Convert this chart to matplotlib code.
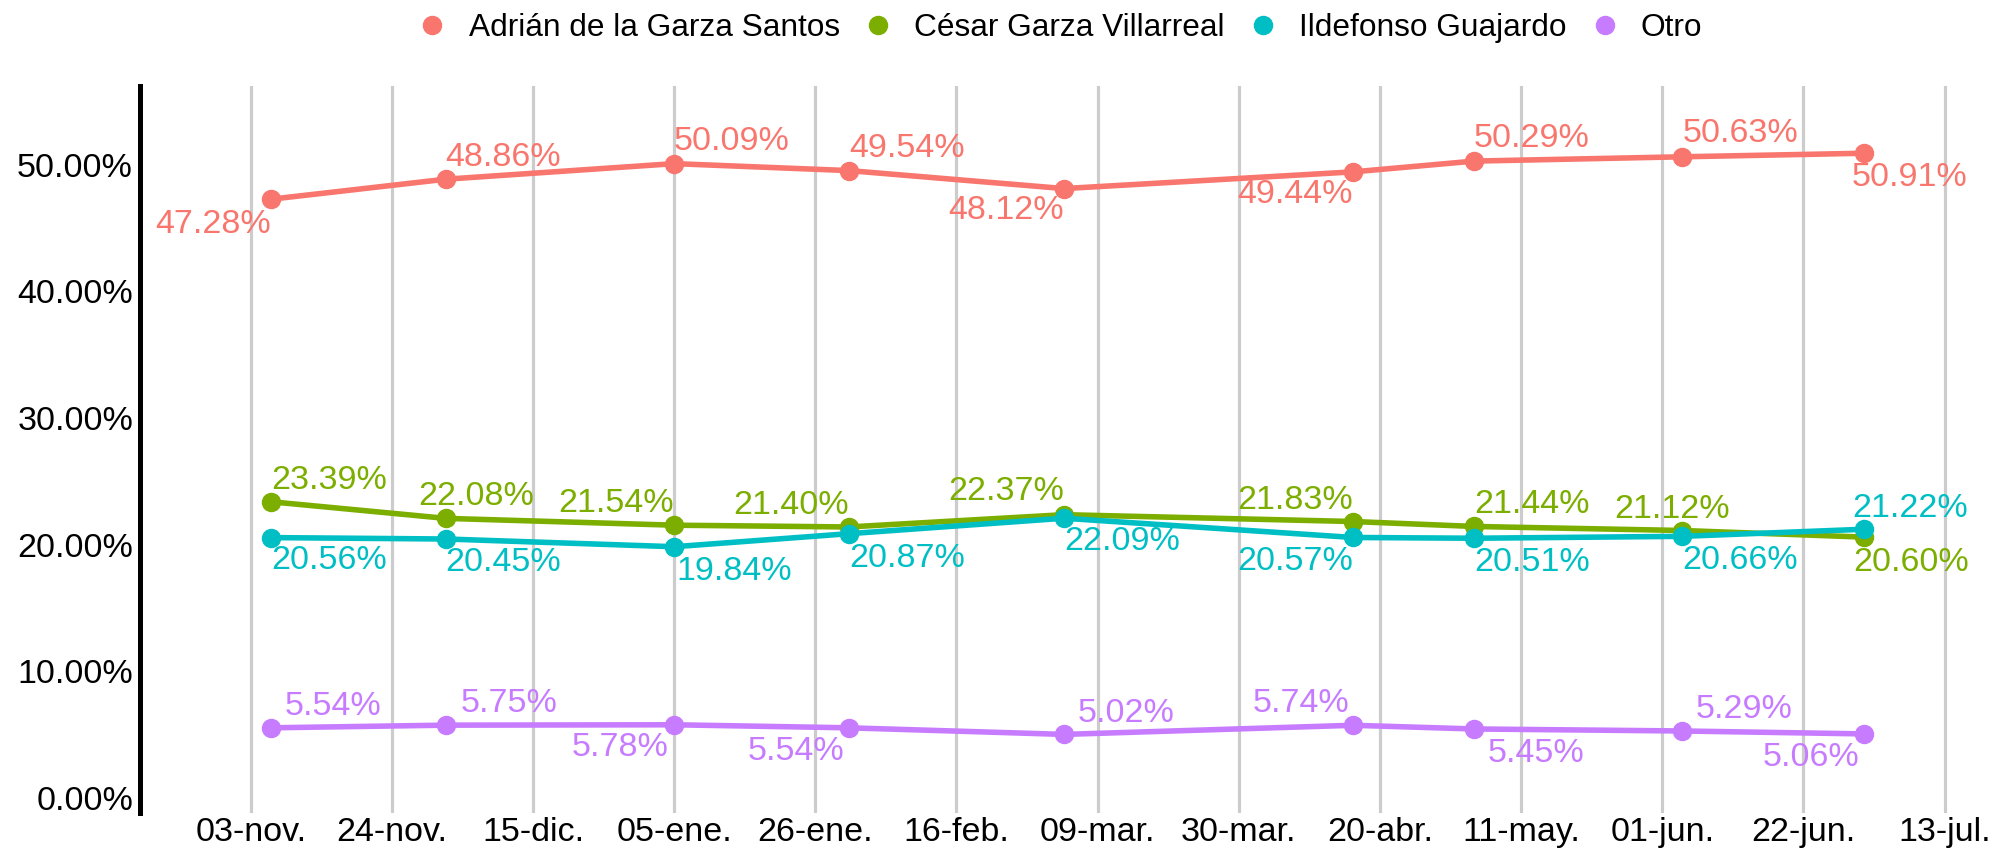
import matplotlib.pyplot as plt
from matplotlib.lines import Line2D
import pandas as pd
import numpy as np

plt.rcParams['font.family'] = ['Liberation Sans', 'DejaVu Sans']

# fechas de cada encuesta
fechas = pd.to_datetime(['2020-11-06', '2020-12-02', '2021-01-05', '2021-01-31', '2021-03-04',
                         '2021-04-16', '2021-05-04', '2021-06-04', '2021-07-01'])

candidatos = ['Adrián de la Garza Santos', 'César Garza Villarreal', 'Ildefonso Guajardo', 'Otro']
adrian = [47.28, 48.86, 50.09, 49.54, 48.12, 49.44, 50.29, 50.63, 50.91]
cesar = [23.39, 22.08, 21.54, 21.40, 22.37, 21.83, 21.44, 21.12, 20.60]
ildefonso = [20.56, 20.45, 19.84, 20.87, 22.09, 20.57, 20.51, 20.66, 21.22]
otro = [5.54, 5.75, 5.78, 5.54, 5.02, 5.74, 5.45, 5.29, 5.06]
series = [adrian, cesar, ildefonso, otro]
colores = ['#F8766D', '#7CAE00', '#00BFC4', '#C77CFF']

tick_labels = ['03-nov.', '24-nov.', '15-dic.', '05-ene.', '26-ene.', '16-feb.', '09-mar.',
               '30-mar.', '20-abr.', '11-may.', '01-jun.', '22-jun.', '13-jul.']
y_ticks = [0, 10, 20, 30, 40, 50]

# where each label sits relative to its point (pixels): alignment, dx, dy
label_ha = [['r', 'l', 'l', 'l', 'r', 'r', 'l', 'l', 'l'],
            ['l', 'l', 'r', 'r', 'r', 'r', 'l', 'l', 'l'],
            ['l', 'l', 'l', 'l', 'l', 'r', 'l', 'l', 'l'],
            ['l', 'l', 'r', 'r', 'l', 'r', 'l', 'l', 'r']]
label_dx = [[0, 0, 0, 0, 0, 0, 0, 0, -12],
            [0, -27, 0, 0, 0, 0, 0, -68, -11],
            [0, 0, 2, 0, 0, 0, 0, 0, -12],
            [14, 15, -6, -5, 14, -4, 14, 13, -5]]
label_dy = [[-25, 22, 22, 22, -22, -23, 23, 23, -24],
            [21, 22, 22, 21, 23, 21, 22, 21, -25],
            [-23, -24, -25, -25, -23, -24, -24, -24, 21],
            [21, 22, -23, -24, 21, 22, -25, 21, -24]]

fig = plt.figure(figsize=(19.93, 8.48), dpi=100)
ax = fig.add_axes([140 / 1993, 1 - 813.3 / 848, 1 - 140 / 1993, (813.3 - 86) / 848])

for vals, col in zip(series, colores):
    ax.plot(fechas, vals, color=col, lw=4, marker='o', markersize=13, zorder=3)

ha_map = {'l': 'left', 'r': 'right'}
for i, vals in enumerate(series):
    for j, v in enumerate(vals):
        ax.annotate('%.2f%%' % v, (fechas[j], v), xytext=(label_dx[i][j], label_dy[i][j]),
                    textcoords='offset pixels', ha=ha_map[label_ha[i][j]], va='center',
                    color=colores[i], fontsize=24.5, zorder=4)

ticks = pd.date_range('2020-11-03', periods=len(tick_labels), freq='21D')
ax.set_xticks(ticks)
ax.set_xticklabels(tick_labels, fontsize=24.5)
ax.set_xlim(ticks[0] - pd.Timedelta(days=16.47), ticks[0] + pd.Timedelta(days=259.2))

ax.set_yticks(y_ticks)
ax.set_yticklabels(['%.2f%%' % t for t in y_ticks], fontsize=24.5)
ax.set_ylim(-1.21, 56.22)

ax.tick_params(axis='both', length=0, colors='black')
ax.tick_params(axis='y', pad=5)
ax.tick_params(axis='x', pad=3)
ax.grid(axis='x', color='#cccccc', lw=2.3)
ax.set_axisbelow(True)
for s in ['top', 'right', 'bottom']:
    ax.spines[s].set_visible(False)
ax.spines['left'].set_linewidth(3.6)
ax.spines['left'].set_color('black')

handles = [Line2D([], [], color=c, marker='o', linestyle='none', markersize=13) for c in colores]
fig.legend(handles, candidatos, loc='center', bbox_to_anchor=(1061 / 1993, 1 - 28 / 848), ncol=4,
           frameon=False, fontsize=22.8, handlelength=0.8, handletextpad=0.75, columnspacing=0.8,
           borderpad=0, borderaxespad=0)

fig.savefig('out.png', dpi=100)
